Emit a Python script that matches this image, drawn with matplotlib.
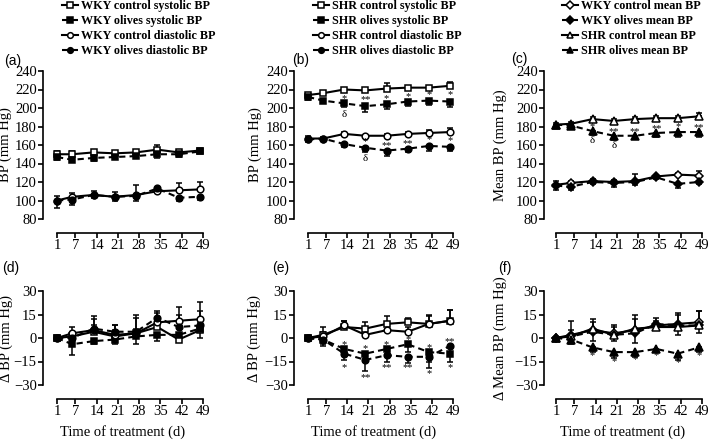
import matplotlib
matplotlib.use('Agg')
import matplotlib.pyplot as plt
import numpy as np

W, H = 709, 443
SERIF = ['Liberation Serif', 'DejaVu Serif']
SANS = ['Liberation Sans', 'DejaVu Sans']
plt.rcParams['font.family'] = SERIF

days = [1, 6, 13, 20, 27, 34, 41, 48]
xticks = [1, 7, 14, 21, 28, 35, 42, 49]

# ---------------- data ----------------
# (a) WKY BP
a_ctrl_sys = [150, 150, 152, 151, 152, 155, 152, 154]
a_ctrl_sys_err = [3, 3, 3, 2, 2, 5, 3, 2]
a_oliv_sys = [147, 144, 146, 147, 148, 150, 150, 153]
a_oliv_sys_err = [3, 2, 3, 2, 2, 4, 3, 2]
a_ctrl_dia = [100, 104, 106, 104, 106, 110, 111, 112]
a_ctrl_dia_err = [5, 4, 4, 5, 11, 3, 8, 8]
a_oliv_dia = [100, 101, 106, 104, 105, 113, 103, 104]
a_oliv_dia_err = [8, 6, 3, 5, 5, 2, 4, 3]

# (b) SHR BP
b_ctrl_sys = [214, 216, 220, 219, 221, 222, 222, 224]
b_ctrl_sys_err = [2, 1, 2, 1, 6, 2, 2, 4]
b_oliv_sys = [212, 208, 205, 202, 204, 207, 208, 207]
b_oliv_sys_err = [3, 3, 4, 6, 5, 5, 5, 6]
b_ctrl_dia = [167, 167, 172, 170, 170, 172, 173, 174]
b_ctrl_dia_err = [3, 2, 2, 1, 2, 2, 3, 4]
b_oliv_dia = [166, 167, 161, 157, 154, 156, 159, 158]
b_oliv_dia_err = [3, 2, 3, 5, 6, 4, 5, 4]
b_marks = [(13, 210, '*'), (20, 209, '**'), (27, 210, '*'), (34, 212, '*'), (41, 214, '*'), (48, 214, '*'),
           (13, 193, 'δ'),
           (20, 164, '*'), (27, 159, '**'), (34, 162, '**'), (41, 166, '*'), (48, 165, '*'),
           (20, 145, 'δ')]

# (c) mean BP
c_wky_ctrl = [117, 119, 121, 120, 121, 126, 128, 127]
c_wky_ctrl_err = [4, 2, 2, 2, 8, 2, 2, 5]
c_wky_oliv = [116, 115, 120, 119, 120, 125, 118, 120]
c_wky_oliv_err = [5, 4, 2, 4, 3, 2, 4, 2]
c_shr_ctrl = [182, 183, 188, 186, 188, 189, 189, 191]
c_shr_ctrl_err = [2, 2, 2, 2, 2, 2, 2, 4]
c_shr_oliv = [182, 181, 175, 170, 170, 173, 174, 174]
c_shr_oliv_err = [2, 2, 4, 5, 4, 4, 5, 5]
c_marks = [(13, 180, '*'), (20, 175, '**'), (27, 175, '**'), (34, 178, '**'), (41, 180, '*'), (48, 179, '**'),
           (13, 165, 'δ'), (20, 160, 'δ')]

# (d) delta BP WKY
d_ctrl_sys = [0, 1, 4, 1, 3, 7, -1, 5]
d_ctrl_sys_err = [0, 3, 4, 4, 3, 4, 2, 5]
d_oliv_sys = [0, -4, -2, -1, 1, 2, 2, 6]
d_oliv_sys_err = [0, 7, 2, 3, 5, 4, 3, 6]
d_ctrl_dia = [0, 3, 5, 2, 3, 10, 11, 12]
d_ctrl_dia_err = [0, 4, 9, 6, 12, 6, 9, 11]
d_oliv_dia = [0, 0, 6, 4, 4, 13, 7, 8]
d_oliv_dia_err = [0, 4, 6, 4, 9, 4, 8, 9]

# (e) delta BP SHR
e_ctrl_sys = [0, 2, 7, 6, 9, 10, 9, 11]
e_ctrl_sys_err = [0, 5, 4, 4, 5, 3, 6, 7]
e_oliv_sys = [0, -1, -7, -10, -7, -4, -9, -10]
e_oliv_sys_err = [0, 4, 4, 5, 4, 5, 6, 5]
e_ctrl_dia = [0, 1, 8, 2, 5, 4, 9, 11]
e_ctrl_dia_err = [0, 3, 3, 4, 4, 3, 5, 7]
e_oliv_dia = [0, -1, -10, -14, -11, -12, -12, -5]
e_oliv_dia_err = [0, 3, 4, 7, 4, 4, 7, 4]
e_marks = [(13, -4, '*'), (20, -7, '*'), (27, -4, '*'), (34, -1, '*'), (41, -6, '*'), (48, -2, '**'),
           (13, -19, '*'), (20, -25, '**'), (27, -19, '**'), (34, -19, '**'), (41, -23, '*'), (48, -19, '*')]

# (f) delta mean BP
f_wky_ctrl = [0, 2, 5, 3, 5, 8, 9, 10]
f_wky_ctrl_err = [0, 3, 7, 5, 7, 5, 7, 7]
f_wky_oliv = [0, 1, 4, 2, 3, 9, 8, 8]
f_wky_oliv_err = [0, 3, 6, 4, 6, 3, 6, 5]
f_shr_ctrl = [0, 1, 6, 2, 6, 7, 7, 8]
f_shr_ctrl_err = [0, 10, 4, 5, 9, 4, 8, 9]
f_shr_oliv = [0, -1, -6, -9, -9, -7, -10, -6]
f_shr_oliv_err = [0, 3, 3, 4, 3, 2, 4, 3]
f_marks = [(13, -11, '*'), (20, -15, '*'), (27, -14, '*'), (34, -11, '*'), (41, -16, '*'), (48, -11, '*')]

labels_a = ['WKY control systolic BP', 'WKY olives systolic BP', 'WKY control diastolic BP', 'WKY olives diastolic BP']
labels_b = ['SHR control systolic BP', 'SHR olives systolic BP', 'SHR control diastolic BP', 'SHR olives diastolic BP']
labels_c = ['WKY control mean BP', 'WKY olives mean BP', 'SHR control mean BP', 'SHR olives mean BP']

# ---------------- styles ----------------
ST_CS = dict(marker='s', mfc='white', ls='-')
ST_OS = dict(marker='s', mfc='black', ls='--')
ST_CD = dict(marker='o', mfc='white', ls='-')
ST_OD = dict(marker='o', mfc='black', ls='--')
ST_CDI = dict(marker='D', mfc='white', ls='-')
ST_ODI = dict(marker='D', mfc='black', ls='--')
ST_CT = dict(marker='^', mfc='white', ls='-')
ST_OT = dict(marker='^', mfc='black', ls='--')

fig = plt.figure(figsize=(W / 100, H / 100), dpi=100)


def add_panel(yaxis_px, x1_px, x49_px, top_px, bot_axis_px, ymin_tick, ymax_tick, ytick_step, ymin_px,
              ylabel, ylabel_px, xlabel=None):
    ax = fig.add_axes([yaxis_px / W, 1 - bot_axis_px / H, (x49_px - yaxis_px) / W, (bot_axis_px - top_px) / H])
    pxday = (x49_px - x1_px) / 48.0
    ax.set_xlim(1 - (x1_px - yaxis_px) / pxday, 49)
    pxunit = (ymin_px - top_px) / (ymax_tick - ymin_tick)
    ax.set_ylim(ymin_tick - (bot_axis_px - ymin_px) / pxunit, ymax_tick)
    for s in ['top', 'right']:
        ax.spines[s].set_visible(False)
    ax.spines['left'].set_bounds(ymin_tick, ymax_tick)
    ax.spines['bottom'].set_bounds(1, 49)
    for s in ['left', 'bottom']:
        ax.spines[s].set_linewidth(1.2)
    ax.set_xticks(xticks)
    ax.set_yticks(np.arange(ymin_tick, ymax_tick + 1, ytick_step))
    ax.tick_params(axis='both', direction='out', length=3.5, width=1.2, labelsize=10.5, pad=1)
    ax.patch.set_visible(False)
    ax.set_ylabel(ylabel, fontsize=10.5)
    ax.yaxis.set_label_coords((ylabel_px - yaxis_px) / (x49_px - yaxis_px), 0.5 + (
        ((top_px + ymin_px) / 2 - (top_px + bot_axis_px) / 2) / (bot_axis_px - top_px)) * -1)
    if xlabel:
        ax.set_xlabel(xlabel, fontsize=10.5, labelpad=5)
    return ax


def series(ax, y, err, st, up=True):
    y = np.array(y, float)
    err = np.array(err, float)
    if up:
        yerr = [np.zeros_like(err), err]
    else:
        yerr = [err, np.zeros_like(err)]
    ax.errorbar(days, y, yerr=yerr, fmt='none', ecolor='black', elinewidth=1.1, capsize=2.5, capthick=1.1,
                clip_on=False, zorder=2)
    ms = 4.8
    if st['marker'] == 'D':
        ms = 4.5
    if st['marker'] == '^':
        ms = 5.4
    kw = dict(color='black', marker=st['marker'], mfc=st['mfc'], mec='black', mew=1.1, ms=ms, lw=1.5,
              clip_on=False, zorder=3)
    if st['ls'] == '--':
        ln, = ax.plot(days, y, ls='--', dashes=(3, 2), **kw)
    else:
        ln, = ax.plot(days, y, ls='-', **kw)
    return ln


def marks(ax, mk):
    for d, yv, t in mk:
        ax.text(d, yv, t, ha='center', va='center', fontsize=8 if t == 'δ' else 7.5, family=SERIF, zorder=4)


def legend(handles, labels, x_px, y_px):
    fig.legend(handles, labels, loc='upper left', bbox_to_anchor=(x_px / W, 1 - y_px / H),
               frameon=False, borderpad=0, borderaxespad=0, handlelength=1.3, handletextpad=0.3,
               labelspacing=0.25, prop=dict(family=SERIF, weight='bold', size=8.7), markerscale=0.85)


TOP, BOT_T, Y80 = 71, 233, 219
TOPB, BOT_B, YM30 = 291, 399, 385

# (a)
ax = add_panel(43, 57, 203, TOP, BOT_T, 80, 240, 20, Y80, 'BP (mm Hg)', 12)
h = [series(ax, a_ctrl_sys, a_ctrl_sys_err, ST_CS, True),
     series(ax, a_oliv_sys, a_oliv_sys_err, ST_OS, False),
     series(ax, a_ctrl_dia, a_ctrl_dia_err, ST_CD, True),
     series(ax, a_oliv_dia, a_oliv_dia_err, ST_OD, False)]
legend(h, labels_a, 62, 0)

# (b)
ax = add_panel(294, 308, 453, TOP, BOT_T, 80, 240, 20, Y80, 'BP (mm Hg)', 262)
h = [series(ax, b_ctrl_sys, b_ctrl_sys_err, ST_CS, True),
     series(ax, b_oliv_sys, b_oliv_sys_err, ST_OS, False),
     series(ax, b_ctrl_dia, b_ctrl_dia_err, ST_CD, True),
     series(ax, b_oliv_dia, b_oliv_dia_err, ST_OD, False)]
marks(ax, b_marks)
legend(h, labels_b, 313, 0)

# (c)
ax = add_panel(544, 556, 702, TOP, BOT_T, 80, 240, 20, Y80, 'Mean BP (mm Hg)', 507)
h = [series(ax, c_wky_ctrl, c_wky_ctrl_err, ST_CDI, True),
     series(ax, c_wky_oliv, c_wky_oliv_err, ST_ODI, False),
     series(ax, c_shr_ctrl, c_shr_ctrl_err, ST_CT, True),
     series(ax, c_shr_oliv, c_shr_oliv_err, ST_OT, False)]
marks(ax, c_marks)
legend(h, labels_c, 562, 0)

# (d)
ax = add_panel(43, 57, 203, TOPB, BOT_B, -30, 30, 15, YM30, 'Δ BP (mm Hg)', 13, 'Time of treatment (d)')
series(ax, d_ctrl_sys, d_ctrl_sys_err, ST_CS, True)
series(ax, d_oliv_sys, d_oliv_sys_err, ST_OS, False)
series(ax, d_ctrl_dia, d_ctrl_dia_err, ST_CD, True)
series(ax, d_oliv_dia, d_oliv_dia_err, ST_OD, True)

# (e)
ax = add_panel(294, 308, 453, TOPB, BOT_B, -30, 30, 15, YM30, 'Δ BP (mm Hg)', 261, 'Time of treatment (d)')
series(ax, e_ctrl_sys, e_ctrl_sys_err, ST_CS, True)
series(ax, e_oliv_sys, e_oliv_sys_err, ST_OS, False)
series(ax, e_ctrl_dia, e_ctrl_dia_err, ST_CD, True)
series(ax, e_oliv_dia, e_oliv_dia_err, ST_OD, False)
marks(ax, e_marks)

# (f)
ax = add_panel(544, 556, 702, TOPB, BOT_B, -30, 30, 15, YM30, 'Δ Mean BP (mm Hg)', 507, 'Time of treatment (d)')
series(ax, f_wky_ctrl, f_wky_ctrl_err, ST_CDI, True)
series(ax, f_wky_oliv, f_wky_oliv_err, ST_ODI, False)
series(ax, f_shr_ctrl, f_shr_ctrl_err, ST_CT, True)
series(ax, f_shr_oliv, f_shr_oliv_err, ST_OT, False)
marks(ax, f_marks)

# panel letters
for t, x, y in [('(a)', 4, 61), ('(b)', 292, 60), ('(c)', 511, 59),
                ('(d)', 2, 268), ('(e)', 272, 268), ('(f)', 498, 268)]:
    fig.text(x / W, 1 - y / H, t, ha='left', va='center', fontsize=10, family=SANS)

fig.savefig('out.png', dpi=100)
